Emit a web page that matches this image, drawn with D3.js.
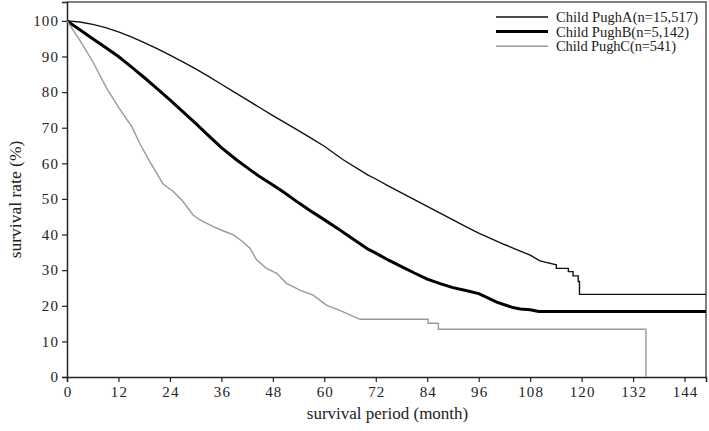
<!DOCTYPE html>
<html>
<head>
<meta charset="utf-8">
<script src="https://cdn.jsdelivr.net/npm/d3@7"></script>
<style>
  html, body { margin: 0; padding: 0; background: #fff; }
  svg { display: block; }
  text { font-family: "Liberation Serif", "Times New Roman", serif; fill: #222; }
</style>
</head>
<body>
<svg id="chart" width="709" height="431"></svg>
<script>
// ---- data ----
const seriesNames = ["Child PughA(n=15,517)", "Child PughB(n=5,142)", "Child PughC(n=541)"];
const xTicks = [0, 12, 24, 36, 48, 60, 72, 84, 96, 108, 120, 132, 144];
const yTicks = [0, 10, 20, 30, 40, 50, 60, 70, 80, 90, 100];

// [month, survival %]
const pughA = [[0,100],[3,99.7],[6,99],[9,98.1],[12,96.9],[15,95.5],[18,93.9],[21,92.2],[24,90.4],[27,88.5],[30,86.5],[33,84.4],[36,82.2],[39,80],[42,77.8],[45,75.6],[48,73.4],[51,71.3],[54,69.2],[57,67],[60,64.8],[64.4,61],[70.2,56.7],[72,55.6],[75,53.6],[78,51.7],[81,49.8],[84,47.9],[87,46],[90,44.1],[93,42.2],[96,40.4],[99,38.8],[102,37.2],[105,35.7],[108,34.2],[110.3,32.6],[114.1,31.5],[114.1,30.5],[116.9,30.5],[116.9,29.6],[118,29.6],[118,28.4],[119.2,28.4],[119.2,26.8],[119.5,26.8],[119.5,23.2],[149,23.2]];
const pughB = [[0,100],[3,97.5],[6,95],[9,92.5],[12,90],[15,87.1],[18,84.1],[21,81],[24,77.8],[27,74.5],[30,71.2],[33,67.8],[36,64.4],[39.5,61],[42,58.8],[45,56.2],[48,53.9],[50.4,52],[54,48.9],[57,46.5],[59.7,44.4],[63,41.8],[66,39.3],[70.2,35.9],[72,34.8],[75,32.8],[78,31],[81,29.2],[84,27.5],[87,26.2],[90,25.1],[93,24.3],[96,23.4],[98,22.3],[100.2,21],[102,20.3],[104,19.5],[105.7,19.1],[108,18.9],[110,18.4],[149,18.4]];
const pughC = [[0,100],[3,94.5],[6,88.6],[9.2,81.2],[12,75.8],[15.1,70.3],[17,65.5],[19.3,60.5],[22.4,54.2],[24.8,52.1],[27.1,49.2],[29.4,45.5],[31,44.1],[34.1,42.2],[36.5,41],[38.8,39.9],[41,38],[42.7,36.1],[44.2,32.9],[46.5,30.5],[48.9,29.1],[51.2,26.3],[54.3,24.4],[57.4,23],[60.5,20.2],[64.4,18.3],[68.3,16.2],[84.2,16.2],[84.2,15.1],[86.6,15.1],[86.6,13.4],[135,13.4],[135,0]];

const series = [
  { name: seriesNames[0], values: pughA, color: "#111", width: 1.4 },
  { name: seriesNames[1], values: pughB, color: "#000", width: 3 },
  { name: seriesNames[2], values: pughC, color: "#999", width: 1.4 }
];

// ---- layout ----
const svg = d3.select("#chart");
const mLeft = 67, mRight = 706, mTop = 2, mBottom = 377;

const x = d3.scaleLinear().domain([0, 149]).range([mLeft, mRight]);
const y = d3.scaleLinear().domain([0, 105.3]).range([mBottom, mTop]);

// frame (top & right)
svg.append("path")
  .attr("d", `M${mLeft},${mTop}H${mRight}V${mBottom}`)
  .attr("fill", "none").attr("stroke", "#555").attr("stroke-width", 1.5);

// axes
const xAxis = svg.append("g").attr("transform", `translate(0,${mBottom})`)
  .call(d3.axisBottom(x).tickValues(xTicks).tickSize(5).tickPadding(4));
const yAxis = svg.append("g").attr("transform", `translate(${mLeft},0)`)
  .call(d3.axisLeft(y).tickValues(yTicks).tickSize(5).tickPadding(3));
[xAxis, yAxis].forEach(g => {
  g.select(".domain").attr("stroke", "#222").attr("stroke-width", 1.5);
  g.selectAll(".tick line").attr("stroke", "#222").attr("stroke-width", 1.2);
  g.selectAll(".tick text").attr("font-size", 15).attr("fill", "#222")
    .style("font-family", "'Liberation Serif', serif").attr("letter-spacing", 1.1);
});
xAxis.selectAll(".tick text").attr("dx", "0.5");

// axis titles
svg.append("text").attr("x", (mLeft + mRight) / 2 + 1).attr("y", 419)
  .attr("text-anchor", "middle").attr("font-size", 17).text("survival period (month)");
svg.append("text").attr("transform", `translate(21,${(mTop + mBottom) / 2 + 10}) rotate(-90)`)
  .attr("text-anchor", "middle").attr("font-size", 17.5).text("survival rate (%)");

// curves
const line = d3.line().x(d => x(d[0])).y(d => y(d[1])).curve(d3.curveLinear);
svg.append("g").selectAll("path").data(series).join("path")
  .attr("d", d => line(d.values))
  .attr("fill", "none")
  .attr("stroke", d => d.color)
  .attr("stroke-width", d => d.width)
  .attr("stroke-linejoin", "miter");

// legend
const legendWidths = [142, 133, 120];
const leg = svg.append("g");
series.forEach((s, i) => {
  const yy = 17 + i * 14.6;
  leg.append("line").attr("x1", 496).attr("x2", 548).attr("y1", yy).attr("y2", yy)
    .attr("stroke", s.color).attr("stroke-width", s.width);
  leg.append("text").attr("x", 556).attr("y", yy).attr("dy", "0.35em")
    .attr("font-size", 14.5)
    .attr("textLength", legendWidths[i]).attr("lengthAdjust", "spacing")
    .text(s.name);
});
</script>
</body>
</html>
